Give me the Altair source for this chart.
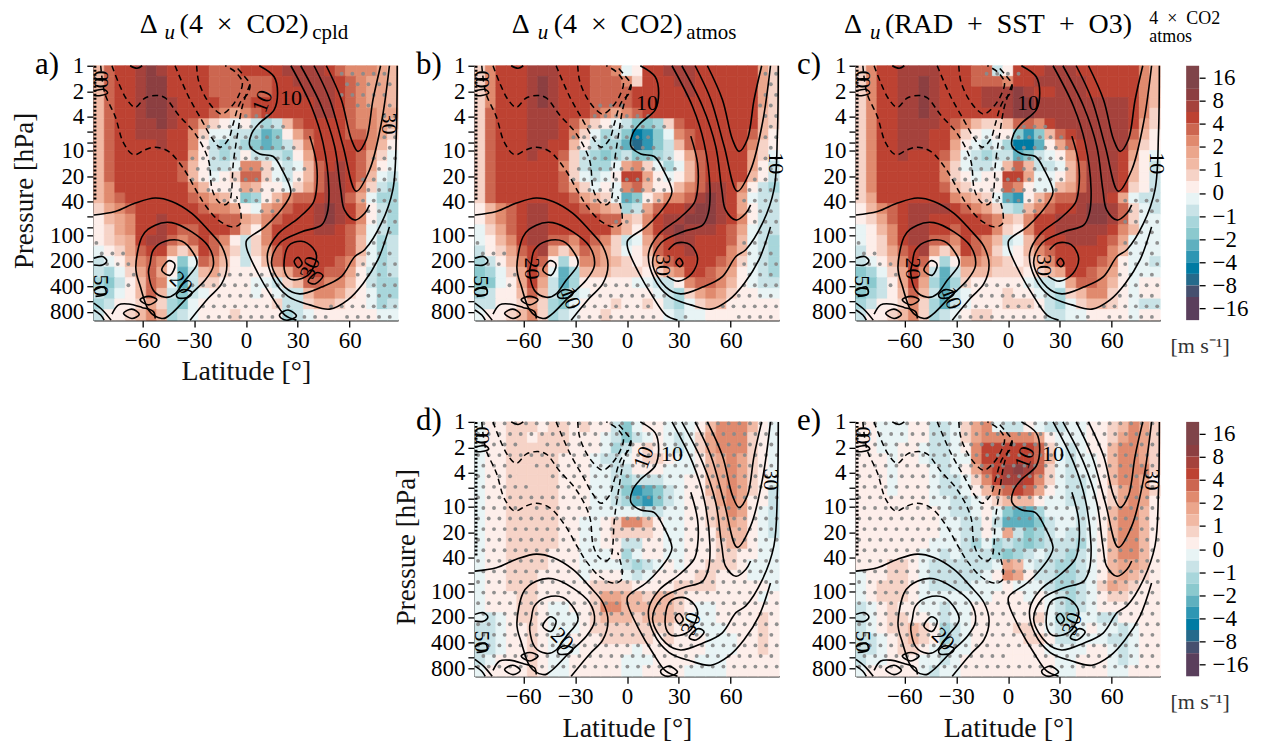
import altair as alt
import pandas as pd

alt.data_transformers.disable_max_rows()
FONT = "Liberation Serif"
PW, PH = 305, 255

BAND_KEYS = ["a","9","8","7","6","5","4","3","2","1","z","y","x","w","v","u","t","s","r","q"]
BAND_COLORS = ["#7f4449","#8c3f41","#a5423c","#bd4232","#cc6650","#e08a6e","#eba68c","#f1b9a4","#f6d3c7","#fdeeea",
               "#e8f4f5","#c9e3e7","#a8d6db","#8bc9ce","#5fb0bf","#2e96b3","#007ba3","#256a8b","#46506f","#5a3f5c"]
CB_LOW = [20,19,18,17,16,15,14,13,12,11,10,9,8,7,6,5,4,3,2,0]
CB_HIGH = [22,20,19,18,17,16,15,14,13,12,11,10,9,8,7,6,5,4,3,2]
CB_POS = [1,3,5,7,9,11,13,15,17,19,21]
CB_LABELS = ["−16","−8","−4","−2","−1","0","1","2","4","8","16"]

FIELD_A = [
"3677898777""7666777788""887655543","3677899777""7666666778""888765443","3677899777""7666666777""888765443",
"3677899877""7766677777""788765443","3677899877""7654567777""788765544","3677889876""421z1yxy36""777765543",
"3677888775""2zzyyxvw14""677766542","3677778775""1yxyxwvwy2""577777531","3677777774""1yxy1yyyx1""47777642z",
"3677777763""1yyz552zyz""36787641z","3677777763""1z12662zy1""3688763zy","3577777775""31114311z2""4688752yx",
"3567777776""5431wx1356""678864zxx","2456777777""65541z4567""7898751yx","1345778777""7766435677""7898751yx",
"1245778766""7776315777""788764zyx","1234788656""7651y25777""777763zxy","z124677424""7642y24677""777763zxy",
"yz135651wz""6531y13677""777652zxy","yxz24641vy""3421111346""776641yxy","xwy1365zvy""22111zzy23""665531yxx",
"yxz1363ywy""z1111z1zyy""355421zxx","xy11242xwz""11111112yy""233211zxy","y112353xyz""11121111xy""z111111zz"]
FIELD_B = [
"2577788877""7665z17788""877777742","2577789877""7666527778""877777742","2577789877""7666677777""877777742",
"2577789877""7666677777""777777742","2677788877""7654567777""777777732","2677788876""421zywwx26""777777732",
"2677788875""2zxywtuwz5""677777631","2677788773""1yxxvsuwy3""677777521","2677787762""yxwxywwxy1""46777742z",
"2677777752""yxxz452zxz""36777741y","2677777762""zyz17741z1""36777731y","2677777764""2z1z563113""5688751yx",
"2677777776""432zvw1355""689874zyy","1356788777""6543xy4677""8998741yy","1356788777""7766325788""9998751yy",
"z246788777""7775315789""888764zyy","z135788665""7652yz4678""877763zyx","y124678424""6542z13677""877753zyx",
"xy135761x1""5543212467""777652zyx","wxz2475zvx""3332221245""776541zyx","wwz1474yvx""11111zzyy1""566531zyy",
"xy11363ywy""z111111zyx""2454211zz","yy11242xwz""11121121yx""z23311111","z112352xyz""11211111zy""zz1111111"]
FIELD_C = [
"2577888877""766y177788""877777753","2577889877""7666577888""887777753","2577889877""7788898778""887777753",
"2577889877""7788899888""888888753","2577889877""7777899888""888888752","2577888876""5322366578""888888742",
"2577888775""21z11wuw36""788888631","2577888774""1zyzxttv14""678888521","2577877763""zyxyyvwyz1""47888741z",
"2577777752""zyyz363yyz""36888731y","2577777752""1z11774zz1""36888731y","2577777763""2111651zz3""46888721y",
"2477777775""432zvu1356""688874zyy","1356788887""6542yx3567""7899862zy","1246788777""7765325778""8899862zz",
"z135788776""7775215778""8888753zz","z125788665""7653yz3677""888764zzz","y124678424""7652z13567""777753zzz",
"yz135761x1""5543212357""777651zzy","wxz2475yvy""3332221234""776541zzz","xwy1474xvx""211111zyyz""466531z11",
"wxy1363yvy""z111211zyx""235521z11","xy11252xvy""z1112221yx""z23321zyy","y112352xyz""12211111yy""zz1111z11"]
FIELD_D = [
"z112221221""211ywz11zz""z1355531z","z112212221""11zywyz1zy""z2455521z","z112222221""11zxy121zy""z2455521z",
"z112222211""1zyyz1221z""z1345421z","z112222211""1zzyy111zz""z1345421z","z112222211""1zzyxyyyzz""11345421z",
"z112222211""1zzywuvwyz""11345421y","z112222211""1zzyxvuwyz""11245411y","z112222211""1zzzzzyyzz""1123541zy",
"z112222211""zz125531zz""1123431zy","z112222211""zz122221zz""1113331zy","z112222211""zz11yy11zz""1112331zz",
"z112222111""zzz1xz11zz""1112211zz","z112222111""zzzzyxyz1z""112221zzz","z112221111""z111zyz111""122111zzz",
"z112221111""1222211112""22211111z","z111221111""1244332332""1111111z1","z111221zz1""1255333332""1zz111111",
"zyz1221zzz""1233323332""zzz111121","yyz1121zzz""1222222221""1zzz11121","yyz1121zz1""1122222121""11zzz1121",
"yyz1121zzz""11111z1111""11zzz1121","yz11121zz1""1111zzz111""1zzz11111","z111121zz1""1111zz1111""zzzz11111"]
FIELD_E = [
"11zzz11yyz""245zyy1zyy""zz1123542","11zzz11yyz""245555541z""zz1124542","11zz11zyyz""157777762z""yz1135542",
"111z11zyyz""z57777763z""yzz135542","111z111zyz""146789862z""yzz135552","111z111zyy""z25788752z""yyz135541",
"111z111zyy""z13567641z""yyz124542","1111111zzy""yz123331zz""yyz124541","11111111zy""yz1zwvvxzz""zyz135531",
"11111111zz""yy1yvvvwyz""zyz135531","11111111zz""yy1z4ywxyz""yyz135531","1111111zzz""yxzxyxwxyy""yxz135531",
"111111zzyz""yyyxwxyzyy""xyz135531","111221zyyy""yyyz43zyyx""xyz134431","z11221zyyy""yyz1541yyx""xyz134321",
"z12221zyyy""yzzz1zzzyx""xyz243211","z12221zzzz""zzz111z1zy""xyz122111","yz1211zzyz""z1111111zy""xyz111111",
"yz12211zyz""z1111112zx""xzzyy1111","yz122321xy""z1111221zy""yz1zzyz11","yyz12321xy""z11111221y""yzzzyyz11",
"yyz1221zyz""z1111111zz""zz11zyz11","yzz111zzyz""111111111z""z111zyz11","z11111zyzz""111111111z""z111zz111"]

ALL = [(0,28)]
DOTS_A = [[(23,27)],[(23,27)],[(23,27)],[(24,25),(27,27)],[(14,16),(27,28)],[(10,17),(27,28)],[(10,17),(27,28)],
          [(10,18),(27,28)],[(9,18),(26,28)],[(9,19),(26,28)],[(9,19),(25,28)],[(10,18),(25,28)],[(12,17),(25,28)],
          [(15,16),(25,28)],[(26,28)],[(26,27)],[(0,0),(26,27)],[(0,2),(25,27)],[(1,3),(25,28)],[(3,3),(11,16),(24,28)],
          [(3,3),(9,17),(26,28)],[(11,17),(25,28)],[(10,18),(22,28)],[(10,16),(19,21),(23,28)]]
DOTS_B = [[(27,28)],[(27,28)],[(27,28)],[(11,13),(26,28)],[(11,16),(27,28)],[(10,17),(27,28)],[(9,16),(27,28)],
          [(9,16),(27,28)],[(10,18),(27,28)],[(9,18),(26,28)],[(9,18),(26,28)],[(10,17),(25,28)],[(11,17),(25,28)],
          [(14,15),(25,28)],[(13,14),(26,28)],[(26,27)],[(0,0),(25,27)],[(0,2),(25,27)],[(1,2),(25,28)],[(3,3),(25,28)],
          [(3,3),(11,16),(25,28)],[(10,17),(24,28)],[(9,16),(23,28)],[(9,16),(19,19),(24,28)]]
DOTS_C = [[(12,15)],[],[],[],[],[(15,17)],[(11,19)],[(10,19)],[(10,19)],[(9,19)],[(9,19)],[(10,18),(27,28)],
          [(12,17),(25,28)],[(15,16),(25,28)],[(25,28)],[(26,28)],[(0,0),(25,28)],[(0,1),(25,28)],[(1,3),(25,28)],
          [(3,3),(24,28)],[(3,3),(10,16),(25,28)],[(10,17),(24,28)],[(9,17),(23,28)],[(9,17),(20,21),(23,28)]]
DOTS_D = [ALL,ALL,[(0,3),(6,28)],ALL,[(0,2),(5,28)],[(0,3),(7,28)],[(0,4),(7,28)],ALL,[(0,3),(5,28)]] + [ALL]*15
DOTS_E = [ALL]*22 + [[(0,13),(16,28)],ALL]

# contour vertices: (latitude, log10 pressure)
C_A = [(-77.5,0),(-73.7,.20),(-68.8,.40),(-64,.49),(-58.3,.38),(-51.5,.35),(-46.7,.38),(-39,.58),(-29.4,.80),(-21.7,1.11),(-19.5,1.46),(-16,1.6),(-12,1.64),(-9.2,1.58),(-8.3,1.48),(-7.3,1.15),(-4.8,.80),(-2.1,.48),(2.3,.22)]
C_B = [(-41,0),(-33.3,.36),(-25.6,.64),(-19.8,.85),(-15,.96),(-10.2,.87),(-7.3,.68),(-3.5,.44),(1.3,.32),(2.3,.22),(-1.5,.11),(-6.3,0)]
C_C = [(-28.5,0),(-27.5,.17),(-23.7,.36),(-17.9,.52),(-14,.57),(-8.3,.48),(-3.5,.32),(-2.1,.19),(-6.3,.07),(-12,0)]
C_D = [(-84,0),(-81.7,.32),(-75.6,.60),(-70.8,.91),(-65,1.05),(-58.3,.99),(-52.5,.96),(-44.8,1.01),(-36.2,1.21),(-28.5,1.48),(-23.7,1.64),(-16,1.82),(-8.3,1.90),(-3.5,1.87),(-2.9,1.74),(-5.4,1.54)]
C_EDGE = [(-87.3,0),(-87.3,1.6)]
DASHED = [C_A, C_B, C_C, C_D]

S_10 = [(7.7,0),(16.3,.13),(18.3,.32),(16.3,.52),(7.7,.68),(3.3,.80),(2.3,.95),(8,1.04),(15.8,1.07),(21,1.23),(26,1.48),(24.4,1.58),(18.7,1.74),(11,1.90),(.4,2.06),(.4,2.15),(7,2.45),(14.8,2.72),(22.5,2.94),(29.2,3.0)]
S_2 = [(36.9,.83),(40.8,1.15),(40.8,1.46),(38.8,1.62),(30.2,1.80),(18.7,1.98),(12.5,2.21),(15.8,2.51),(24.4,2.72),(36.9,2.82),(48.5,2.87),(59,2.76),(67.7,2.57),(76.3,2.29),(83,1.90)]
S_3 = [(26,0),(37.9,.48),(44.6,.91),(48,1.46),(47,1.74),(43.7,1.88),(32,1.96),(19.6,2.09),(14.8,2.33),(22.5,2.61),(31,2.69),(43.7,2.61),(55,2.49),(63,2.25),(68.7,2.17),(78.3,1.86),(85,1.46),(87,.80),(87.5,0)]
U_3 = [(31.7,0),(43.7,.48),(51.3,.95),(54.8,1.46),(57,1.70),(63,1.82),(68.7,1.74),(71.5,1.64)]
U_2 = [(39.4,0),(48.5,.40),(56.2,.95),(63.8,1.48),(71.5,1.23),(78.3,.68),(83,0)]
U_1 = [(46.5,0),(55.2,.40),(61,.87),(64.8,1.01),(69.6,.87),(73.5,.40),(77.9,0)]
L_1 = [(-88,1.76),(-75.6,1.72),(-64,1.62),(-52.5,1.56),(-42.9,1.60),(-31.3,1.74),(-21.7,1.94),(-14,2.13),(-11,2.35),(-14,2.57),(-21.7,2.74),(-32.3,3.0)]
L_2 = [(-60.2,2.02),(-52.5,1.88),(-42.9,1.85),(-31.3,1.96),(-21.7,2.13),(-18.8,2.35),(-23.7,2.53),(-33.3,2.72),(-42.9,2.92),(-48.7,2.98),(-56.3,2.88),(-61,2.61),(-63.7,2.37)]
L_3 = [(-55.4,2.33),(-53.5,2.17),(-46.7,2.07),(-37,2.07),(-30.4,2.21),(-28.5,2.35),(-35.2,2.53),(-41,2.69),(-46.7,2.73),(-53.5,2.65),(-56.3,2.45)]
O_1 = [(-48.7,2.41),(-44.8,2.30),(-41,2.35),(-43.8,2.47)]
O_2 = [(-40,2.69),(-36.2,2.64),(-31.3,2.67),(-33.3,2.73),(-39,2.74)]
O_3 = [(-61.2,2.76),(-56.3,2.72),(-51.5,2.76),(-56.3,2.82)]
O_4 = [(-70.8,2.92),(-66,2.87),(-61.7,2.93),(-66,2.98)]
B_S = [(-77.5,2.93),(-73.7,2.82),(-68,2.81),(-60.2,2.85),(-53.5,2.90),(-52.5,2.98)]
B_1 = [(-88,2.80),(-83,2.88),(-78,3.0)]
B_2 = [(-88,2.88),(-84,2.94),(-82,3.0)]
E_1 = [(-88,2.27),(-83,2.25),(-80.5,2.30),(-83,2.35),(-88,2.35)]
E_2 = [(-88,2.65),(-82,2.61),(-81,2.69),(-87,2.72)]
E_3 = [(-88,.30),(-82,.28),(-80,.32),(-84,.35),(-88,.35)]
T_1 = [(-67,0),(-63,.03),(-60,0)]
SOLID = [S_10,S_2,S_3,U_3,U_2,U_1,L_1,B_S,B_1,B_2,E_1,E_2,E_3,T_1]
CLOSED = [L_2,L_3,O_1,O_2,O_3,O_4]

IN_A = [(22,2.35),(24.4,2.13),(32,2.07),(38.8,2.15),(40.8,2.27),(36.9,2.45),(30.2,2.52),(24.4,2.50)]
OV_A1 = [(27.9,2.31),(30.2,2.26),(32.5,2.33),(30.2,2.38)]
OV_A2 = [(36,2.54),(40.8,2.44),(44.6,2.48),(40.2,2.57)]
OV_A3 = [(19.6,2.93),(24.4,2.88),(29.2,2.95),(24.4,3.0),(20.6,2.98)]
IN_B = [(24,2.17),(28.8,2.09),(36.5,2.11),(40.8,2.27),(37.5,2.45),(29.8,2.54),(23,2.48)]
OV_B1 = [(28.3,2.32),(30.4,2.27),(32.3,2.33),(30.4,2.37)]
CLOSED_A = [IN_A, OV_A1, OV_A2, OV_A3]
OPEN_B = [IN_B]
CLOSED_B = [OV_B1]

# contour labels: text, lat, log10 p, angle
LABELS_A = [("10",9.6,.42,290),("10",26,.38,0),("30",83,.68,90),("20",-37.5,2.56,45),("30",37,2.38,290),("50",-84,2.59,90),("0",-84,.2,90),("0",-84,.12,90)]
LABELS_B = [("10",11.5,.44,0),("10",86,1.15,90),("20",-55,2.39,90),("10",-32.7,2.74,70),("30",21,2.35,90),("50",-84.5,2.6,90),("0",-84,.2,90),("0",-84,.12,90)]

LAT_TICKS = [-60,-30,0,30,60]
P_TICKS = [1,2,4,6,8,10,20,40,60,80,100,200,400,600,800]
P_HIDDEN = [6,8,60,80,600]
NCOL, NROW = 29, 24
LAT0, LAT1 = -88, 88


def text(t, x, y, size, style="normal", align="left", color="black"):
    return alt.Chart(pd.DataFrame({"t":[t]})).mark_text(
        text=t, font=FONT, fontSize=size, fontStyle=style, align=align, baseline="alphabetic", color=color
    ).encode(x=alt.value(x), y=alt.value(y))


def lines_df(paths):
    rows = []
    for k, path in enumerate(paths):
        for n, (la, lp) in enumerate(path):
            rows.append({"id":k, "n":n, "lat":la, "p":10**lp})
    return pd.DataFrame(rows)


def panel(field, dots, phases, y0, open_extra, closed_extra, labels, letter, ylab, xlab, titles):
    dlat = (LAT1-LAT0)/NCOL
    dlog = 3/NROW
    cells = []
    for j, row in enumerate(field):
        for i, k in enumerate(row):
            cells.append({"la":LAT0+i*dlat, "lb":LAT0+(i+1)*dlat, "pa":10**(j*dlog), "pb":10**((j+1)*dlog), "k":k})
    cells = pd.DataFrame(cells)
    pts = []
    for j, spans in enumerate(dots):
        for a, b in spans:
            for c in range(a, b+1):
                la = LAT0+phases[j % 2]+6.17*c
                if la < LAT1:
                    pts.append({"lat":la, "p":10**(y0+0.1247*j)})
    pts = pd.DataFrame(pts)
    xs = alt.Scale(domain=[LAT0,LAT1], nice=False, zero=False)
    ys = alt.Scale(type="log", domain=[1,1000], reverse=True, nice=False)
    xaxis = alt.Axis(values=LAT_TICKS, format="d", title=("Latitude [°]" if xlab else None), grid=False,
                     labelFont=FONT, labelFontSize=23, labelColor="black", labelPadding=2, labelFlush=False,
                     tickSize=7, tickWidth=1.3, tickColor="black", domainWidth=1.6, domainColor="#222",
                     titleFont=FONT, titleFontSize=28, titleFontWeight="normal", titleColor="#111",
                     titlePadding=6)
    hid = ",".join(str(v) for v in P_HIDDEN)
    yaxis = alt.Axis(values=P_TICKS, title=("Pressure [hPa]" if ylab else None), grid=False,
                     labelExpr=f"indexof([{hid}],datum.value)>=0?'':format(datum.value,'d')",
                     labelFont=FONT, labelFontSize=23, labelColor="black", labelPadding=3, labelFlush=False,
                     labelOverlap=False, tickSize=7, tickWidth=1.3, tickColor="black", domainWidth=2.2, domainColor="black",
                     titleFont=FONT, titleFontSize=27, titleFontWeight="normal", titleColor="#111",
                     titleX=-55, titleY=125)
    rect = alt.Chart(cells).mark_rect(strokeWidth=0.7).encode(
        x=alt.X("la:Q", scale=xs, axis=xaxis), x2="lb:Q",
        y=alt.Y("pa:Q", scale=ys, axis=yaxis), y2="pb:Q",
        color=alt.Color("k:N", scale=alt.Scale(domain=BAND_KEYS, range=BAND_COLORS), legend=None),
        stroke=alt.Color("k:N", scale=alt.Scale(domain=BAND_KEYS, range=BAND_COLORS), legend=None))
    dot = alt.Chart(pts).mark_circle(size=15, color="#8a8a8a", opacity=0.95).encode(
        x=alt.X("lat:Q", scale=xs), y=alt.Y("p:Q", scale=ys))
    def ln(df, interp="catmull-rom", **kw):
        return alt.Chart(df).mark_line(color="black", interpolate=interp, **kw).encode(
            x=alt.X("lat:Q", scale=xs), y=alt.Y("p:Q", scale=ys), detail="id:N", order="n:Q")
    solid = ln(lines_df(SOLID+open_extra), strokeWidth=1.6)
    closed = ln(lines_df(CLOSED+closed_extra), interp="cardinal-closed", tension=0, strokeWidth=1.6)
    dash = ln(lines_df(DASHED), strokeWidth=1.5, strokeDash=[6,4])
    edge = ln(lines_df([C_EDGE]), strokeWidth=2.8, strokeDash=[2,2])
    ldf = pd.DataFrame([{"t":t,"lat":a,"p":10**b,"ang":g} for t,a,b,g in labels])
    labs = []
    for _, r in ldf.iterrows():
        labs.append(alt.Chart(pd.DataFrame([r.to_dict()])).mark_text(font=FONT, fontSize=22, color="black", angle=float(r["ang"])).encode(
            x=alt.X("lat:Q", scale=xs), y=alt.Y("p:Q", scale=ys), text="t:N"))
    lett = text(letter, -59, 8, 31)
    ttl = [text(*t) for t in titles]
    return alt.layer(rect, dot, solid, closed, dash, edge, *labs, lett, *ttl).properties(width=PW, height=PH)


def spacer(w):
    return alt.Chart(pd.DataFrame({"a":[0]})).mark_point(opacity=0).encode(x=alt.value(0), y=alt.value(0)).properties(width=w, height=PH)


def cbar(unit_y=288):
    df = pd.DataFrame({"k":BAND_KEYS, "lo":CB_LOW, "hi":CB_HIGH})
    labs = ",".join(f"'{s}'" for s in CB_LABELS)
    bars = alt.Chart(df).mark_rect().encode(
        x=alt.value(0), x2=alt.value(13),
        y=alt.Y("lo:Q", scale=alt.Scale(domain=[0,22], nice=False, zero=False),
                axis=alt.Axis(orient="right", values=CB_POS, title=None, grid=False, domain=False,
                              labelExpr=f"[{labs}][(datum.value-1)/2]", labelFont=FONT, labelFontSize=23,
                              labelColor="black", labelFlush=False, labelOverlap=False, labelPadding=7,
                              tickSize=6, tickWidth=1.3, tickColor="black")),
        y2="hi:Q",
        color=alt.Color("k:N", scale=alt.Scale(domain=BAND_KEYS, range=BAND_COLORS), legend=None))
    unit = text("[m s⁻¹]", 14, unit_y, 22, align="center", color="#333")
    return alt.layer(bars, unit).properties(width=13, height=PH)


TOP0, BOT0 = 8/255*3, 1.5/255*3
PH_ABC = (1.5, 4.6)
PH_DE = (4.9, 1.85)
MAIN, SUB = 28, 21
EN = "\u2002"
T_A = [("Δ",46,-33,MAIN),("u",71,-27,SUB,"italic"),(f"(4{EN}×{EN}CO2)",86,-33,MAIN),("cpld",219,-27,SUB)]
T_B = [("Δ",37,-33,MAIN),("u",63,-27,SUB,"italic"),(f"(4{EN}×{EN}CO2)",79,-33,MAIN),("atmos",212,-27,SUB)]
T_C = [("Δ",-12,-33,MAIN),("u",14,-27,SUB,"italic"),(f"(RAD{EN}+{EN}SST{EN}+{EN}O3)",29,-33,MAIN),(f"4{EN}×{EN}CO2",294,-42,18),("atmos",294,-24,18)]

a = panel(FIELD_A, DOTS_A, PH_ABC, TOP0, [], CLOSED_A, LABELS_A, "a)", True, True, T_A)
b = panel(FIELD_B, DOTS_B, PH_ABC, TOP0, OPEN_B, CLOSED_B, LABELS_B, "b)", False, False, T_B)
c = panel(FIELD_C, DOTS_C, PH_ABC, TOP0, OPEN_B, CLOSED_B, LABELS_B, "c)", False, False, T_C)
d = panel(FIELD_D, DOTS_D, PH_DE, BOT0, [], CLOSED_A, LABELS_A, "d)", True, True, [])
e = panel(FIELD_E, DOTS_E, PH_DE, BOT0, [], CLOSED_A, LABELS_A, "e)", False, True, [])

chart = alt.concat(a, spacer(25), b, spacer(25), c, cbar(),
                   spacer(PW), spacer(25), d, spacer(25), e, cbar(),
                   columns=6, spacing={"row":102,"column":26}, bounds="flush", align="each"
                   ).properties(padding={"left":2,"top":1,"right":5,"bottom":0}
                   ).configure_view(stroke=None)
chart.save("out.html", embed_options={"renderer":"svg","actions":False})
